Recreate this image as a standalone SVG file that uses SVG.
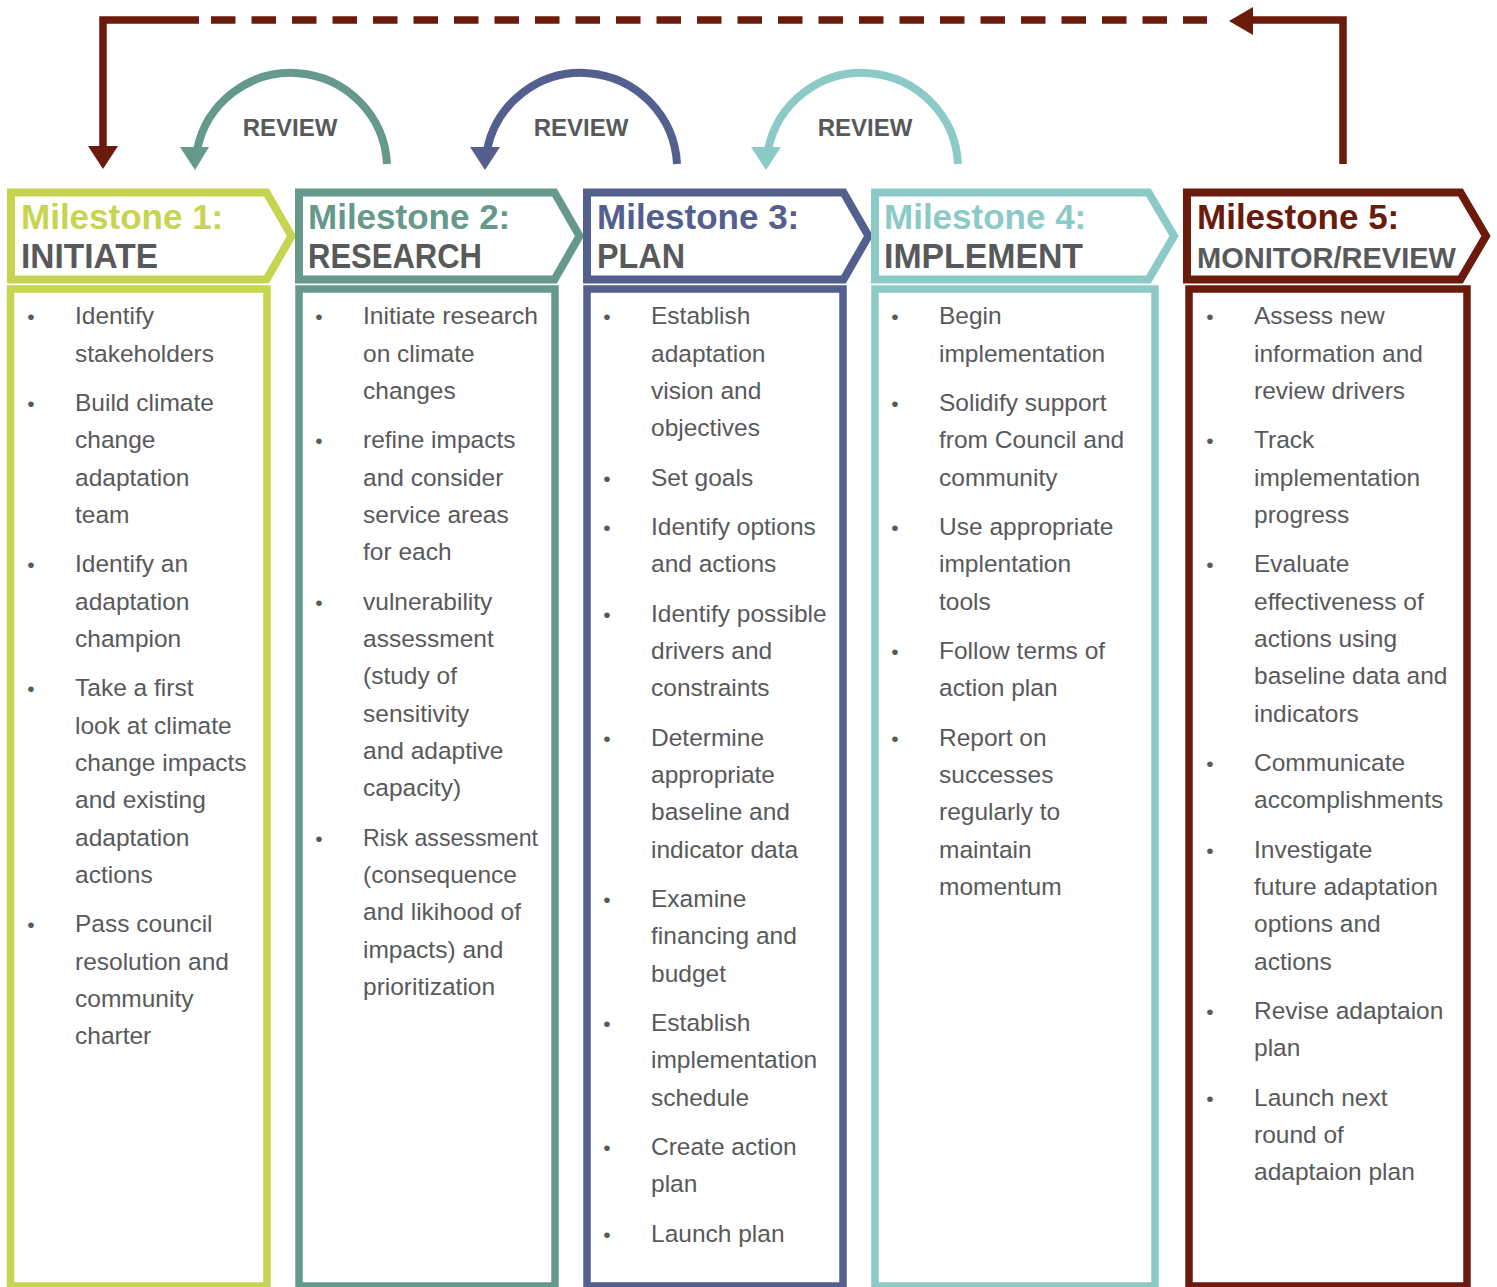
<svg xmlns="http://www.w3.org/2000/svg" width="1497" height="1287" viewBox="0 0 1497 1287">
<style>
.b{font-family:"Liberation Sans",Arial,sans-serif;font-size:24.5px;fill:#58595B}
.d{font-family:"Liberation Sans",Arial,sans-serif;font-size:21px;fill:#58595B;text-anchor:middle}
.h1{font-family:"Liberation Sans",Arial,sans-serif;font-size:35px;font-weight:bold}
.h2{font-family:"Liberation Sans",Arial,sans-serif;font-size:35px;font-weight:bold;fill:#58595B}
.rv{font-family:"Liberation Sans",Arial,sans-serif;font-size:24px;font-weight:bold;fill:#58595B;text-anchor:middle}
.hd{fill:#fff;stroke-width:8;stroke-linejoin:miter}
.bd{fill:#fff;stroke-width:7.5}
.arc{fill:none;stroke-width:8}
</style>
<g id="connectors">
  <path d="M1343,164 V20 H1253" fill="none" stroke="#6B1B0C" stroke-width="7.5"/>
  <polygon points="1229,21 1253,7 1253,35" fill="#6B1B0C"/>
  <line x1="211" y1="20" x2="1207" y2="20" stroke="#6B1B0C" stroke-width="7.5" stroke-dasharray="24.5 16"/>
  <path d="M199,20 H103 V148" fill="none" stroke="#6B1B0C" stroke-width="7.5"/>
  <polygon points="88,146 118,146 103,169" fill="#6B1B0C"/>
  <path class="arc" d="M387,164 A96,96 0 0 0 197,150" stroke="#65998B"/>
  <polygon points="180,147 209,147 195,170" fill="#65998B"/>
  <path class="arc" d="M677,164 A96,96 0 0 0 487,150" stroke="#535F8F"/>
  <polygon points="470,147 500,147 485,170" fill="#535F8F"/>
  <path class="arc" d="M958,164 A96,96 0 0 0 768,150" stroke="#8BCAC7"/>
  <polygon points="751,147 781,147 766,170" fill="#8BCAC7"/>
  <text class="rv" x="290" y="136">REVIEW</text>
  <text class="rv" x="581" y="136">REVIEW</text>
  <text class="rv" x="865" y="136">REVIEW</text>
</g>
<g id="milestone1">
  <rect class="bd" x="10.5" y="289" width="256.5" height="997" stroke="#C6D54F"/>
  <polygon class="hd" points="11,192.5 266.5,192.5 291.5,236 266.5,279.5 11,279.5" stroke="#C6D54F"/>
  <text class="h1" x="21" y="229" fill="#C6D54F">Milestone 1:</text>
  <text class="h2" x="21" y="268" textLength="137" lengthAdjust="spacingAndGlyphs">INITIATE</text>
  <text class="d" x="31" y="324">•</text><text class="b"><tspan x="75" y="324">Identify</tspan><tspan x="75" y="362">stakeholders</tspan></text>
  <text class="d" x="31" y="411">•</text><text class="b"><tspan x="75" y="411">Build climate</tspan><tspan x="75" y="448">change</tspan><tspan x="75" y="486">adaptation</tspan><tspan x="75" y="523">team</tspan></text>
  <text class="d" x="31" y="572">•</text><text class="b"><tspan x="75" y="572">Identify an</tspan><tspan x="75" y="610">adaptation</tspan><tspan x="75" y="647">champion</tspan></text>
  <text class="d" x="31" y="696">•</text><text class="b"><tspan x="75" y="696">Take a first</tspan><tspan x="75" y="734">look at climate</tspan><tspan x="75" y="771">change impacts</tspan><tspan x="75" y="808">and existing</tspan><tspan x="75" y="846">adaptation</tspan><tspan x="75" y="883">actions</tspan></text>
  <text class="d" x="31" y="932">•</text><text class="b"><tspan x="75" y="932">Pass council</tspan><tspan x="75" y="970">resolution and</tspan><tspan x="75" y="1007">community</tspan><tspan x="75" y="1044">charter</tspan></text>
</g>
<g id="milestone2">
  <rect class="bd" x="299" y="289" width="256" height="997" stroke="#65998B"/>
  <polygon class="hd" points="299,192.5 554.5,192.5 579.5,236 554.5,279.5 299,279.5" stroke="#65998B"/>
  <text class="h1" x="308" y="229" fill="#65998B">Milestone 2:</text>
  <text class="h2" x="308" y="268" textLength="174" lengthAdjust="spacingAndGlyphs">RESEARCH</text>
  <text class="d" x="319" y="324">•</text><text class="b"><tspan x="363" y="324" textLength="175" lengthAdjust="spacingAndGlyphs">Initiate research</tspan><tspan x="363" y="362">on climate</tspan><tspan x="363" y="399">changes</tspan></text>
  <text class="d" x="319" y="448">•</text><text class="b"><tspan x="363" y="448">refine impacts</tspan><tspan x="363" y="486">and consider</tspan><tspan x="363" y="523">service areas</tspan><tspan x="363" y="560">for each</tspan></text>
  <text class="d" x="319" y="610">•</text><text class="b"><tspan x="363" y="610">vulnerability</tspan><tspan x="363" y="647">assessment</tspan><tspan x="363" y="684">(study of</tspan><tspan x="363" y="722">sensitivity</tspan><tspan x="363" y="759">and adaptive</tspan><tspan x="363" y="796">capacity)</tspan></text>
  <text class="d" x="319" y="846">•</text><text class="b"><tspan x="363" y="846" textLength="175" lengthAdjust="spacingAndGlyphs">Risk assessment</tspan><tspan x="363" y="883">(consequence</tspan><tspan x="363" y="920">and likihood of</tspan><tspan x="363" y="958">impacts) and</tspan><tspan x="363" y="995">prioritization</tspan></text>
</g>
<g id="milestone3">
  <rect class="bd" x="587" y="289" width="256" height="997" stroke="#535F8F"/>
  <polygon class="hd" points="587,192.5 843.5,192.5 868.5,236 843.5,279.5 587,279.5" stroke="#535F8F"/>
  <text class="h1" x="597" y="229" fill="#535F8F">Milestone 3:</text>
  <text class="h2" x="597" y="268" textLength="88" lengthAdjust="spacingAndGlyphs">PLAN</text>
  <text class="d" x="607" y="324">•</text><text class="b"><tspan x="651" y="324">Establish</tspan><tspan x="651" y="362">adaptation</tspan><tspan x="651" y="399">vision and</tspan><tspan x="651" y="436">objectives</tspan></text>
  <text class="d" x="607" y="486">•</text><text class="b"><tspan x="651" y="486">Set goals</tspan></text>
  <text class="d" x="607" y="535">•</text><text class="b"><tspan x="651" y="535">Identify options</tspan><tspan x="651" y="572">and actions</tspan></text>
  <text class="d" x="607" y="622">•</text><text class="b"><tspan x="651" y="622">Identify possible</tspan><tspan x="651" y="659">drivers and</tspan><tspan x="651" y="696">constraints</tspan></text>
  <text class="d" x="607" y="746">•</text><text class="b"><tspan x="651" y="746">Determine</tspan><tspan x="651" y="783">appropriate</tspan><tspan x="651" y="820">baseline and</tspan><tspan x="651" y="858">indicator data</tspan></text>
  <text class="d" x="607" y="907">•</text><text class="b"><tspan x="651" y="907">Examine</tspan><tspan x="651" y="944">financing and</tspan><tspan x="651" y="982">budget</tspan></text>
  <text class="d" x="607" y="1031">•</text><text class="b"><tspan x="651" y="1031">Establish</tspan><tspan x="651" y="1068">implementation</tspan><tspan x="651" y="1106">schedule</tspan></text>
  <text class="d" x="607" y="1155">•</text><text class="b"><tspan x="651" y="1155">Create action</tspan><tspan x="651" y="1192">plan</tspan></text>
  <text class="d" x="607" y="1242">•</text><text class="b"><tspan x="651" y="1242">Launch plan</tspan></text>
</g>
<g id="milestone4">
  <rect class="bd" x="875" y="289" width="280" height="997" stroke="#8BCAC7"/>
  <polygon class="hd" points="875,192.5 1148.5,192.5 1174,236 1148.5,279.5 875,279.5" stroke="#8BCAC7"/>
  <text class="h1" x="884" y="229" fill="#8BCAC7">Milestone 4:</text>
  <text class="h2" x="884" y="268" textLength="199" lengthAdjust="spacingAndGlyphs">IMPLEMENT</text>
  <text class="d" x="895" y="324">•</text><text class="b"><tspan x="939" y="324">Begin</tspan><tspan x="939" y="362">implementation</tspan></text>
  <text class="d" x="895" y="411">•</text><text class="b"><tspan x="939" y="411">Solidify support</tspan><tspan x="939" y="448">from Council and</tspan><tspan x="939" y="486">community</tspan></text>
  <text class="d" x="895" y="535">•</text><text class="b"><tspan x="939" y="535">Use appropriate</tspan><tspan x="939" y="572">implentation</tspan><tspan x="939" y="610">tools</tspan></text>
  <text class="d" x="895" y="659">•</text><text class="b"><tspan x="939" y="659">Follow terms of</tspan><tspan x="939" y="696">action plan</tspan></text>
  <text class="d" x="895" y="746">•</text><text class="b"><tspan x="939" y="746">Report on</tspan><tspan x="939" y="783">successes</tspan><tspan x="939" y="820">regularly to</tspan><tspan x="939" y="858">maintain</tspan><tspan x="939" y="895">momentum</tspan></text>
</g>
<g id="milestone5">
  <rect class="bd" x="1189" y="289" width="278" height="997" stroke="#6B1B0C"/>
  <polygon class="hd" points="1187,192.5 1460.5,192.5 1486,236 1460.5,279.5 1187,279.5" stroke="#6B1B0C"/>
  <text class="h1" x="1197" y="229" fill="#6B1B0C">Milestone 5:</text>
  <text class="h2" x="1197" y="268" style="font-size:29px" textLength="259" lengthAdjust="spacingAndGlyphs">MONITOR/REVIEW</text>
  <text class="d" x="1210" y="324">•</text><text class="b"><tspan x="1254" y="324">Assess new</tspan><tspan x="1254" y="362">information and</tspan><tspan x="1254" y="399">review drivers</tspan></text>
  <text class="d" x="1210" y="448">•</text><text class="b"><tspan x="1254" y="448">Track</tspan><tspan x="1254" y="486">implementation</tspan><tspan x="1254" y="523">progress</tspan></text>
  <text class="d" x="1210" y="572">•</text><text class="b"><tspan x="1254" y="572">Evaluate</tspan><tspan x="1254" y="610">effectiveness of</tspan><tspan x="1254" y="647">actions using</tspan><tspan x="1254" y="684">baseline data and</tspan><tspan x="1254" y="722">indicators</tspan></text>
  <text class="d" x="1210" y="771">•</text><text class="b"><tspan x="1254" y="771">Communicate</tspan><tspan x="1254" y="808">accomplishments</tspan></text>
  <text class="d" x="1210" y="858">•</text><text class="b"><tspan x="1254" y="858">Investigate</tspan><tspan x="1254" y="895">future adaptation</tspan><tspan x="1254" y="932">options and</tspan><tspan x="1254" y="970">actions</tspan></text>
  <text class="d" x="1210" y="1019">•</text><text class="b"><tspan x="1254" y="1019">Revise adaptaion</tspan><tspan x="1254" y="1056">plan</tspan></text>
  <text class="d" x="1210" y="1106">•</text><text class="b"><tspan x="1254" y="1106">Launch next</tspan><tspan x="1254" y="1143">round of</tspan><tspan x="1254" y="1180">adaptaion plan</tspan></text>
</g>
</svg>
